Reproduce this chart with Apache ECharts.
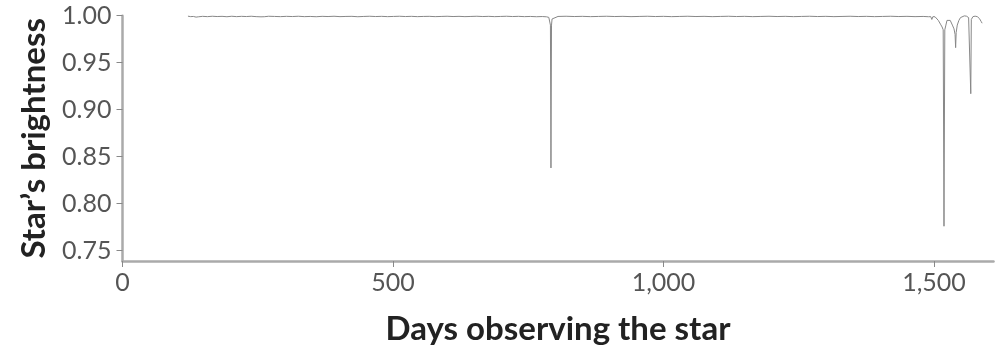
<!DOCTYPE html>
<html>
<head>
<meta charset="utf-8">
<script src="https://cdn.jsdelivr.net/npm/echarts@6/dist/echarts.min.js"></script>
<style>
html,body{margin:0;padding:0;background:#fff;}
#chart{width:1005px;height:350px;}
</style>
</head>
<body>
<div id="chart"></div>
<script>
// Days observing the star (x) and relative brightness (y)
const days = [
  121,126,131,136,138,140,148,157,166,175,184,193,202,211,220,229,238,247,256,259,262,
  270,281,292,303,314,325,336,347,358,369,380,391,402,413,424,435,446,457,468,479,490,
  501,512,523,534,545,556,567,578,589,600,611,622,633,644,655,666,677,688,699,710,721,
  732,743,754,765,776,784,788,790,791,792,793,794,797,805,820,835,850,865,880,895,910,
  925,940,955,970,985,1000,1015,1030,1045,1060,1075,1090,1105,1120,1135,1150,1165,1180,
  1195,1210,1225,1240,1255,1270,1285,1300,1315,1330,1345,1360,1375,1390,1405,1420,1435,
  1450,1465,1480,1490,1494,1496,1498,1502,1505,1508,1512,1515,1517,1518.5,1520,1522,1524,
  1527,1530,1534,1537,1539,1540,1541,1543,1546,1549,1552,1556,1560,1564,1567,1568,1569,
  1572,1576,1580,1584,1587,1589
];
const brightness = [
  0.9995,0.9990,0.9992,0.9985,0.9965,0.9988,0.9993,0.9990,0.9994,0.9991,0.9993,0.9989,0.9994,0.9990,0.9993,0.9991,0.9994,0.9990,0.9988,0.9968,0.9989,
  0.9994,0.9992,0.9990,0.9993,0.9991,0.9994,0.9990,0.9992,0.9989,0.9993,0.9991,0.9994,0.9990,0.9992,0.9993,0.9989,0.9992,0.9994,0.9991,0.9993,0.9990,
  0.9992,0.9994,0.9991,0.9993,0.9990,0.9992,0.9993,0.9990,0.9992,0.9994,0.9991,0.9993,0.9990,0.9992,0.9994,0.9991,0.9993,0.9990,0.9992,0.9994,0.9991,
  0.9993,0.9990,0.9992,0.9989,0.9991,0.9988,0.9982,0.9965,0.9900,0.8380,0.9900,0.9965,0.9985,0.9992,0.9994,0.9991,0.9993,0.9990,0.9992,0.9994,0.9991,
  0.9993,0.9990,0.9992,0.9994,0.9991,0.9993,0.9990,0.9992,0.9994,0.9991,0.9993,0.9990,0.9992,0.9994,0.9991,0.9993,0.9990,0.9992,
  0.9994,0.9991,0.9993,0.9990,0.9992,0.9994,0.9991,0.9993,0.9990,0.9992,0.9994,0.9991,0.9993,0.9990,0.9992,0.9994,0.9991,
  0.9993,0.9990,0.9992,0.9989,0.9990,0.9960,0.9990,0.9988,0.9980,0.9950,0.9910,0.9880,0.9850,0.7760,0.9850,0.9900,0.9950,
  0.9970,0.9950,0.9900,0.9860,0.9800,0.9660,0.9820,0.9900,0.9950,0.9980,0.9995,0.9998,0.9995,0.9980,0.9960,0.9170,0.9960,
  0.9990,0.9995,0.9990,0.9970,0.9940,0.9920
];
const yTicks = [0.75, 0.80, 0.85, 0.90, 0.95, 1.00];

const chart = echarts.init(document.getElementById('chart'), null, {renderer: 'canvas'});
const FONT = 'Lato';
chart.setOption({
  animation: false,
  backgroundColor: '#ffffff',
  grid: {left: 122.5, right: 11.5, top: 15.7, bottom: 89, containLabel: false, outerBoundsMode: 'none'},
  xAxis: {
    type: 'value', min: 0, max: 1610, interval: 500,
    name: 'Days observing the star', nameLocation: 'middle', nameGap: 52,
    nameTextStyle: {fontFamily: FONT, fontWeight: 'bold', fontSize: 33, color: '#222'},
    axisLine: {show: true, lineStyle: {color: '#aaaaaa', width: 2.5}},
    axisTick: {show: true, length: 6, lineStyle: {color: '#888', width: 1}},
    axisLabel: {fontFamily: FONT, fontSize: 25, color: '#555', margin: 9,
      formatter: v => v.toLocaleString('en-US')},
    splitLine: {show: false}
  },
  yAxis: {
    type: 'value', min: 0.739, max: 1.0,
    name: "Star’s brightness", nameLocation: 'middle', nameGap: 70,
    nameTextStyle: {fontFamily: FONT, fontWeight: 'bold', fontSize: 33, color: '#222'},
    axisLine: {show: true, lineStyle: {color: '#aaaaaa', width: 2.5}},
    axisTick: {show: true, length: 6, customValues: yTicks, lineStyle: {color: '#888', width: 1}},
    axisLabel: {fontFamily: FONT, fontSize: 25, color: '#555', margin: 11,
      customValues: yTicks, formatter: v => v.toFixed(2)},
    splitLine: {show: false}
  },
  series: [{
    type: 'line',
    data: days.map((d, i) => [d, brightness[i]]),
    showSymbol: false,
    lineStyle: {color: '#888', width: 1},
    clip: false
  }]
});
</script>
</body>
</html>
